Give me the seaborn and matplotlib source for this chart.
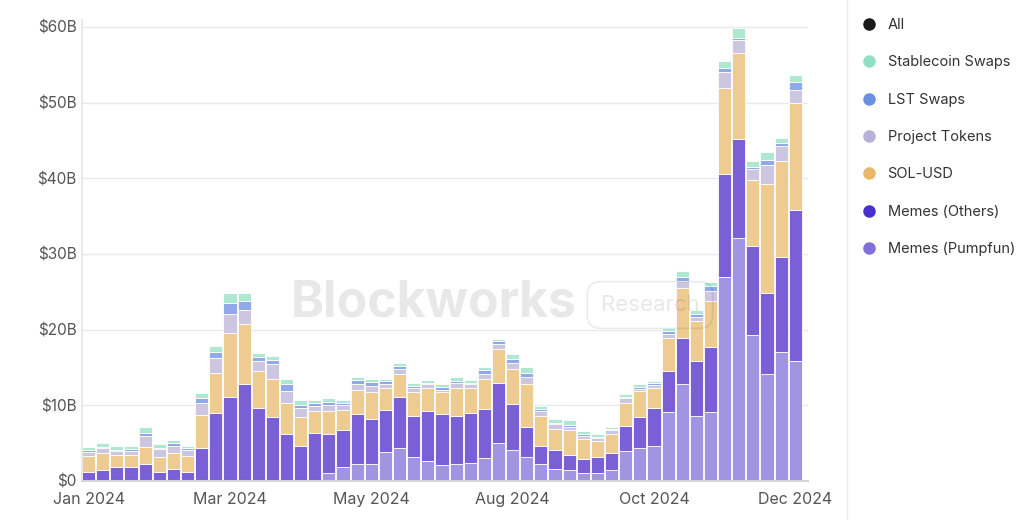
import numpy as np
import pandas as pd
import matplotlib
matplotlib.use("Agg")
import matplotlib.pyplot as plt
from matplotlib.lines import Line2D
import seaborn as sns

# weekly DEX volume on Solana, $B, one value per week (51 weeks)
pumpfun = [0, 0, 0, 0, 0, 0, 0, 0, 0, 0,
           0, 0, 0, 0, 0, 0, 0, 1.1, 1.8, 2.25,
           2.25, 3.8, 4.3, 3.2, 2.6, 2.1, 2.25, 2.4, 3.0, 5.05,
           4.1, 3.2, 2.2, 1.65, 1.45, 1.1, 1.1, 1.45, 3.9, 4.3,
           4.65, 9.05, 12.85, 8.65, 9.05, 27.0, 32.1, 19.25, 14.15, 17.0,
           15.85]
memes_others = [1.2, 1.4, 1.8, 1.8, 2.25, 1.25, 1.65, 1.25, 4.3, 9.0,
                11.05, 12.8, 9.6, 8.45, 6.15, 4.65, 6.35, 5.05, 4.95, 6.55,
                6.0, 5.6, 6.75, 5.45, 6.6, 6.7, 6.4, 6.6, 6.55, 7.95,
                6.05, 3.9, 2.45, 2.45, 2.05, 1.85, 2.05, 2.25, 3.4, 4.15,
                4.95, 5.45, 6.0, 7.15, 8.65, 13.55, 13.05, 11.85, 10.75, 12.6,
                20.0]
sol_usd = [2.15, 2.3, 1.7, 1.7, 2.2, 1.95, 2.1, 2.1, 4.4, 5.3,
           8.5, 7.9, 4.9, 5.05, 4.1, 3.8, 2.85, 3.05, 2.65, 3.2,
           3.45, 2.85, 3.1, 3.05, 3.05, 2.9, 3.6, 3.25, 3.95, 4.5,
           4.7, 5.7, 4.0, 2.8, 3.25, 2.65, 2.15, 2.45, 3.0, 3.45,
           2.65, 4.35, 6.6, 5.3, 6.1, 11.35, 11.35, 8.7, 14.4, 12.7,
           14.15]
project_tokens = [0.45, 0.6, 0.4, 0.4, 1.55, 1.0, 0.9, 0.8, 1.55, 1.9,
                  2.5, 1.9, 1.3, 1.95, 1.65, 1.25, 0.7, 0.9, 0.7, 0.8,
                  0.9, 0.55, 0.7, 0.55, 0.55, 0.35, 0.75, 0.55, 0.6, 0.65,
                  0.8, 1.0, 0.6, 0.65, 0.4, 0.4, 0.35, 0.6, 0.6, 0.3,
                  0.45, 0.6, 1.0, 0.6, 1.3, 2.15, 1.7, 1.4, 2.45, 1.9,
                  1.7]
lst_swaps = [0.25, 0.2, 0.25, 0.3, 0.4, 0.1, 0.35, 0.15, 0.65, 0.8,
             1.45, 1.15, 0.55, 0.55, 0.9, 0.4, 0.35, 0.35, 0.25, 0.5,
             0.5, 0.35, 0.3, 0.35, 0.2, 0.35, 0.15, 0.1, 0.55, 0.3,
             0.5, 0.5, 0.2, 0.15, 0.3, 0.15, 0.15, 0.15, 0.15, 0.25,
             0.2, 0.3, 0.55, 0.35, 0.6, 0.55, 0.3, 0.3, 0.6, 0.4,
             0.95]
stablecoin_swaps = [0.4, 0.5, 0.5, 0.45, 0.75, 0.55, 0.4, 0.35, 0.7, 0.9,
                    1.4, 1.15, 0.6, 0.5, 0.7, 0.55, 0.4, 0.45, 0.35, 0.4,
                    0.4, 0.35, 0.4, 0.4, 0.35, 0.4, 0.55, 0.45, 0.4, 0.35,
                    0.65, 0.75, 0.5, 0.55, 0.6, 0.4, 0.35, 0.25, 0.4, 0.35,
                    0.3, 0.4, 0.75, 0.55, 0.55, 0.9, 1.35, 0.8, 1.1, 0.75,
                    0.95]

tick_weeks = [0, 10, 20, 30, 40, 50]
tick_labels = ["Jan 2024", "Mar 2024", "May 2024", "Aug 2024", "Oct 2024", "Dec 2024"]
y_ticks = [0, 10, 20, 30, 40, 50, 60]

series = {
    "Stablecoin Swaps": stablecoin_swaps,
    "LST Swaps": lst_swaps,
    "Project Tokens": project_tokens,
    "SOL-USD": sol_usd,
    "Memes (Others)": memes_others,
    "Memes (Pumpfun)": pumpfun,
}
bar_colors = {
    "Stablecoin Swaps": "#aee8d1",
    "LST Swaps": "#90a9e8",
    "Project Tokens": "#cdc6e0",
    "SOL-USD": "#edcb91",
    "Memes (Others)": "#7a5fd6",
    "Memes (Pumpfun)": "#a194e3",
}
dot_colors = {
    "All": "#1a1a1a",
    "Stablecoin Swaps": "#93dfc3",
    "LST Swaps": "#6b90e3",
    "Project Tokens": "#b8b1d6",
    "SOL-USD": "#e9b96b",
    "Memes (Others)": "#4a2fcf",
    "Memes (Pumpfun)": "#8170dc",
}

rows = []
for name, vals in series.items():
    for week, v in enumerate(vals):
        rows.append({"week": week, "category": name, "volume": v})
df = pd.DataFrame(rows)

sns.set_theme(style="white")
plt.rcParams["font.family"] = ["Inter", "DejaVu Sans"]

fig = plt.figure(figsize=(10.24, 5.2), dpi=100)
ax = fig.add_axes([82 / 1024, 1 - 481 / 520, (808 - 82) / 1024, 461 / 520])

sns.histplot(data=df, x="week", weights="volume", hue="category",
             hue_order=list(series.keys()), palette=bar_colors,
             multiple="stack", discrete=True, shrink=0.93, alpha=1,
             edgecolor="white", linewidth=0.6, legend=False, ax=ax)

ax.set_xlim(-0.47, 50.9)
ax.set_ylim(0, 60.9)
ax.set_yticks(y_ticks)
ax.set_yticklabels([f"${v}B" if v else "$0" for v in y_ticks])
ax.set_xticks(tick_weeks)
ax.set_xticklabels(tick_labels)
ax.set_xlabel("")
ax.set_ylabel("")
ax.tick_params(axis="y", length=0, pad=4, labelsize=11, labelcolor="#555555")
ax.tick_params(axis="x", length=0, pad=8, labelsize=11.5, labelcolor="#555555")
ax.yaxis.grid(True, color="#e9e9e9", linewidth=1)
ax.set_axisbelow(True)
for s in ["top", "right"]:
    ax.spines[s].set_visible(False)
ax.spines["left"].set_color("#e6e6e6")
ax.spines["bottom"].set_color("#d6d6d6")
ax.spines["bottom"].set_linewidth(1.5)

# separator between chart and legend
fig.add_artist(Line2D([847 / 1024, 847 / 1024], [0, 1], color="#ececec", linewidth=1))

# watermark
fig.text(434 / 1024, 1 - 303 / 520, "Blockworks", fontsize=36, fontweight="bold",
         color="black", alpha=0.09, ha="center", va="center")
fig.text(650 / 1024, 1 - 305 / 520, "Research", fontsize=16, color="black", alpha=0.09,
         ha="center", va="center",
         bbox=dict(boxstyle="round,pad=0.6,rounding_size=0.6", fc="none",
                   ec=(0, 0, 0, 0.08), linewidth=1.2))

handles = [Line2D([0], [0], marker="o", linestyle="", markersize=8,
                  markerfacecolor=c, markeredgecolor=c) for c in dot_colors.values()]
fig.legend(handles, list(dot_colors.keys()), loc="upper left",
           bbox_to_anchor=(862 / 1024, 1 - 18 / 520), frameon=False,
           fontsize=10.5, labelcolor="#333333", handlelength=1, handletextpad=0.75,
           labelspacing=1.6, borderpad=0, borderaxespad=0)

fig.savefig("out.png", dpi=100)
